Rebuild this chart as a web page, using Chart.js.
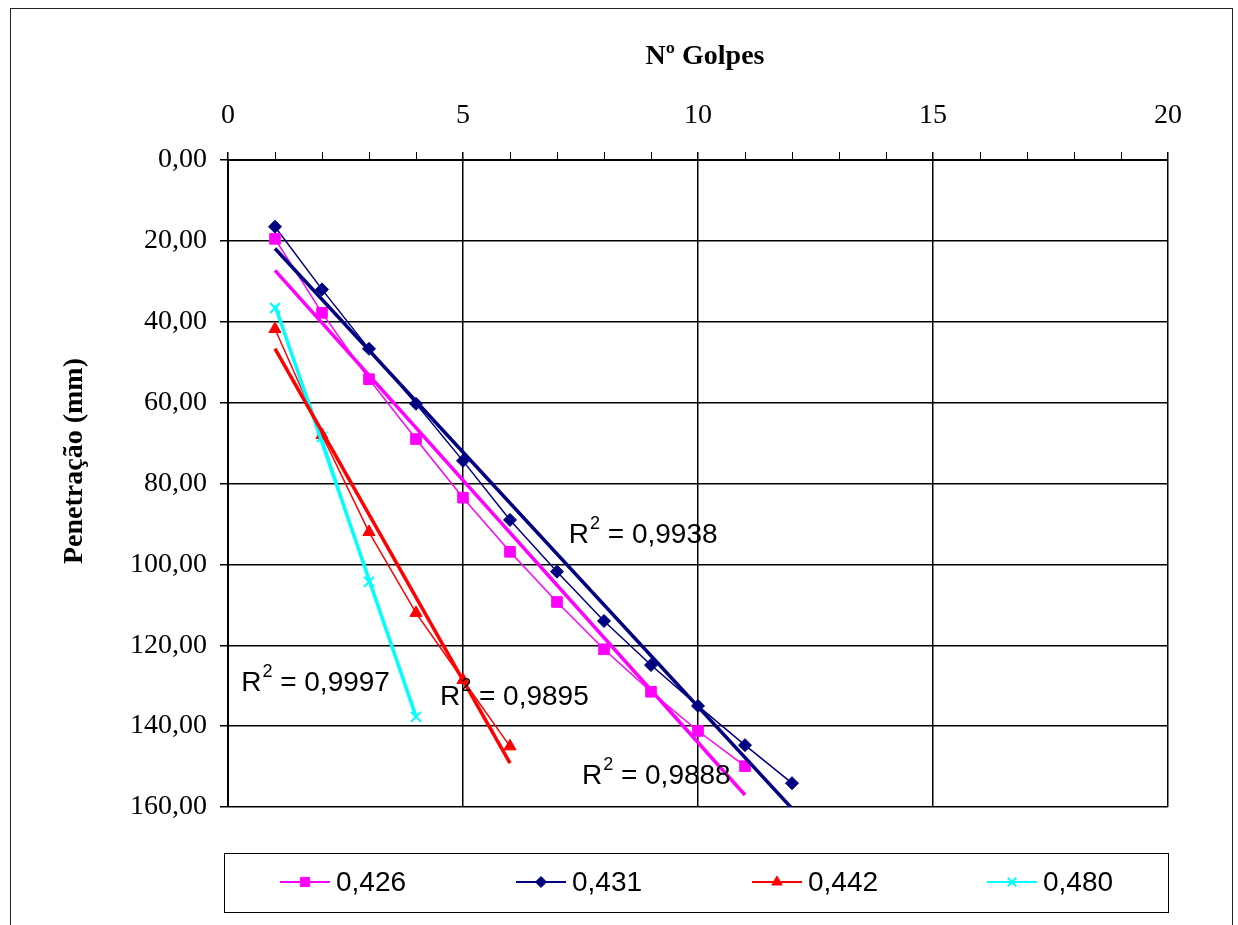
<!DOCTYPE html>
<html>
<head>
<meta charset="utf-8">
<script src="https://cdn.jsdelivr.net/npm/chart.js@4.4.1/dist/chart.umd.min.js"></script>
<style>
  html, body { margin: 0; padding: 0; background: #fff; }
  #frame { position: absolute; left: 10px; top: 8px; width: 1223px; height: 940px; border: 1.5px solid #222; box-sizing: border-box; }
  #wrap { position: absolute; left: 0; top: 0; width: 1238px; height: 925px; }
</style>
</head>
<body>
<div id="frame"></div>
<div id="wrap"><canvas id="chart" width="1238" height="925"></canvas></div>
<script>
// Data
const golpes = [1, 2, 3, 4, 5, 6, 7, 8, 9, 10, 11, 12];
const pen426 = [19.5, 37.8, 54.2, 69.0, 83.5, 96.9, 109.3, 121.0, 131.5, 141.2, 149.9];
const pen431 = [16.5, 32.0, 46.7, 60.3, 74.4, 89.0, 101.8, 114.0, 124.9, 135.0, 144.7, 154.1];
const pen442 = [41.8, 68.0, 92.0, 112.0, 128.6, 145.0];
const pen480 = [36.6, 68.5, 104.3, 137.7];
const seriesNames = ['0,426', '0,431', '0,442', '0,480'];
const r2Values = ['0,9888', '0,9938', '0,9895', '0,9997'];
const xTicks = [0, 5, 10, 15, 20];
const yTicks = [0, 20, 40, 60, 80, 100, 120, 140, 160];

const xTitle = 'Nº Golpes';
const yTitle = 'Penetração (mm)';

// Styling
const colors = ['#ff00ff', '#000080', '#ff0000', '#00ffff'];
const styles = ['rect', 'rectRot', 'triangle', 'crossRot'];
const radii = [7.5, 6.5, 7, 7];
const serif = '"Liberation Serif", "Times New Roman", serif';
const sans = '"Liberation Sans", Arial, sans-serif';

// where the R² labels sit, in data units (same order as r2Values)
const r2Pos = [
    { x: 7.53, y: 152.3 },
    { x: 7.25, y: 92.8 },
    { x: 4.51, y: 132.8 },
    { x: 0.28, y: 129.3 }
];

const allSeries = [pen426, pen431, pen442, pen480];

// linear trendline (least squares), from first to last point
function trend(vals) {
    const xs = golpes.slice(0, vals.length);
    const n = vals.length;
    const mx = xs.reduce((a, b) => a + b, 0) / n;
    const my = vals.reduce((a, b) => a + b, 0) / n;
    let sxy = 0, sxx = 0;
    xs.forEach((x, i) => { sxy += (x - mx) * (vals[i] - my); sxx += (x - mx) * (x - mx); });
    const b = sxy / sxx, a = my - b * mx;
    return [xs[0], xs[n - 1]].map(x => ({ x: x, y: a + b * x }));
}

const datasets = [];
allSeries.forEach((vals, i) => {
    datasets.push({
        label: seriesNames[i],
        data: vals.map((v, j) => ({ x: golpes[j], y: v })),
        borderColor: colors[i],
        backgroundColor: colors[i],
        borderWidth: 1.5,
        pointStyle: styles[i],
        pointRadius: radii[i],
        pointBorderWidth: styles[i] === 'crossRot' ? 2 : 1,
        pointBorderColor: colors[i],
        pointBackgroundColor: colors[i],
        tension: 0,
        order: 2
    });
});
allSeries.forEach((vals, i) => {
    datasets.push({
        label: 'trend ' + seriesNames[i],
        data: trend(vals),
        borderColor: colors[i],
        borderWidth: 3.5,
        pointRadius: 0,
        tension: 0,
        order: 1
    });
});

const overlay = {
    id: 'overlay',
    afterDraw(chart) {
        const ctx = chart.ctx, xs = chart.scales.x, ys = chart.scales.y, area = chart.chartArea;
        ctx.save();

        // minor ticks on top axis
        ctx.strokeStyle = '#000';
        ctx.lineWidth = 1;
        for (let v = 1; v < 20; v++) {
            if (v % 5 === 0) continue;
            const px = Math.round(xs.getPixelForValue(v)) + 0.5;
            ctx.beginPath();
            ctx.moveTo(px, area.top - 8);
            ctx.lineTo(px, area.top);
            ctx.stroke();
        }

        // axis titles
        ctx.fillStyle = '#000';
        ctx.font = 'bold 28px ' + serif;
        ctx.textAlign = 'center';
        ctx.textBaseline = 'middle';
        ctx.fillText(xTitle, 705, 57);
        ctx.save();
        ctx.translate(75, 461);
        ctx.rotate(-Math.PI / 2);
        ctx.fillText(yTitle, 0, 0);
        ctx.restore();

        // R² labels
        ctx.textAlign = 'left';
        r2Values.forEach((val, i) => {
            let x = xs.getPixelForValue(r2Pos[i].x);
            const y = ys.getPixelForValue(r2Pos[i].y);
            ctx.font = '28px ' + sans;
            ctx.fillText('R', x, y);
            x += ctx.measureText('R').width + 1;
            ctx.font = '18px ' + sans;
            ctx.fillText('2', x, y - 11);
            x += ctx.measureText('2').width;
            ctx.font = '28px ' + sans;
            ctx.fillText(' = ' + val, x, y);
        });

        // legend box
        ctx.strokeStyle = '#000';
        ctx.lineWidth = 1;
        ctx.strokeRect(224.5, 853.5, 944, 59);
        const lx = [280, 516, 752, 987];
        const ly = 882;
        ctx.font = '28px ' + sans;
        seriesNames.forEach((name, i) => {
            ctx.strokeStyle = colors[i];
            ctx.fillStyle = colors[i];
            ctx.lineWidth = 2;
            ctx.beginPath();
            ctx.moveTo(lx[i], ly);
            ctx.lineTo(lx[i] + 50, ly);
            ctx.stroke();
            ctx.lineWidth = styles[i] === 'crossRot' ? 2 : 1;
            Chart.helpers.drawPoint(ctx, { pointStyle: styles[i], radius: radii[i] - 1, borderWidth: ctx.lineWidth, rotation: 0 }, lx[i] + 25, ly);
            ctx.fillStyle = '#000';
            ctx.fillText(name, lx[i] + 56, ly + 1);
        });

        ctx.restore();
    }
};

new Chart(document.getElementById('chart'), {
    type: 'line',
    data: { datasets: datasets },
    options: {
        responsive: false,
        animation: false,
        layout: { padding: { left: 0, top: 0, right: 70, bottom: 118 } },
        plugins: {
            legend: { display: false },
            tooltip: { enabled: false }
        },
        scales: {
            x: {
                type: 'linear',
                position: 'top',
                min: 0,
                max: 20,
                afterBuildTicks: s => { s.ticks = xTicks.map(v => ({ value: v })); },
                afterFit: s => { s.height = 160; },
                ticks: { color: '#000', font: { family: serif, size: 28 }, padding: 20, maxRotation: 0 },
                grid: { color: '#000', lineWidth: 1.5, tickLength: 8 },
                border: { color: '#000', width: 2 }
            },
            y: {
                type: 'linear',
                reverse: true,
                min: 0,
                max: 160,
                afterBuildTicks: s => { s.ticks = yTicks.map(v => ({ value: v })); },
                afterFit: s => { s.width = 228; },
                ticks: {
                    color: '#000',
                    font: { family: serif, size: 28 },
                    padding: 13,
                    callback: v => v.toFixed(2).replace('.', ',')
                },
                grid: { color: '#000', lineWidth: 1.5, tickLength: 8 },
                border: { color: '#000', width: 2 }
            }
        }
    },
    plugins: [overlay]
});
</script>
</body>
</html>
